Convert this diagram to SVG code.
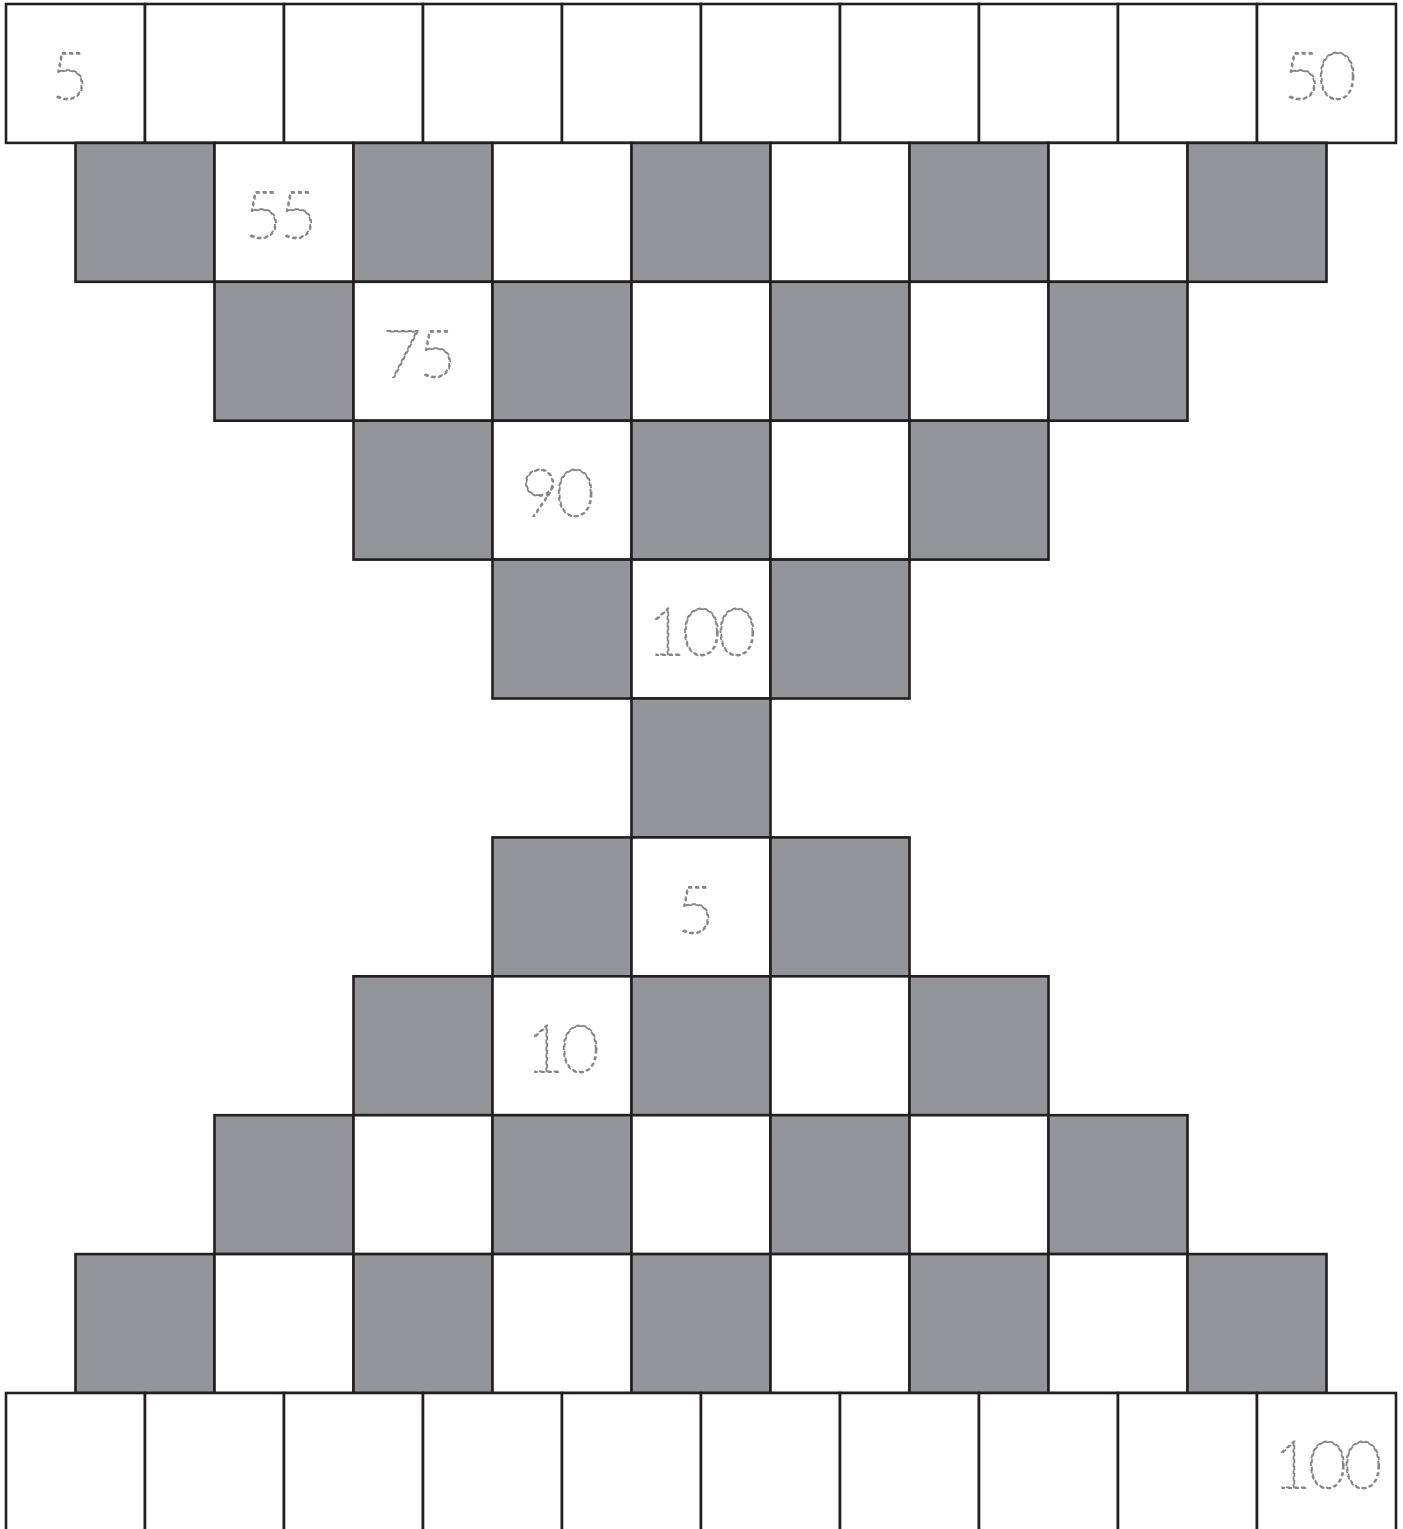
<svg xmlns="http://www.w3.org/2000/svg" width="1403" height="1529" viewBox="0 0 1403 1529">
<style>
.w{fill:#ffffff;stroke:#231f20;stroke-width:2.6}
.g{fill:#939598;stroke:#231f20;stroke-width:2.6}
.n{font-family:"Lato","Liberation Sans",sans-serif;font-weight:100;font-size:66px;letter-spacing:-3px;fill:none;stroke:#858588;stroke-width:1.8;stroke-dasharray:4 3;text-anchor:middle}
</style>
<rect width="1403" height="1529" fill="#ffffff"/>
<g id="row0">
<g id="r0c0"><rect class="w" x="6" y="4" width="139" height="138.9"/><text class="n" x="68" y="99">5</text></g>
<g id="r0c1"><rect class="w" x="145" y="4" width="139" height="138.9"/></g>
<g id="r0c2"><rect class="w" x="284" y="4" width="139" height="138.9"/></g>
<g id="r0c3"><rect class="w" x="423" y="4" width="139" height="138.9"/></g>
<g id="r0c4"><rect class="w" x="562" y="4" width="139" height="138.9"/></g>
<g id="r0c5"><rect class="w" x="701" y="4" width="139" height="138.9"/></g>
<g id="r0c6"><rect class="w" x="840" y="4" width="139" height="138.9"/></g>
<g id="r0c7"><rect class="w" x="979" y="4" width="139" height="138.9"/></g>
<g id="r0c8"><rect class="w" x="1118" y="4" width="139" height="138.9"/></g>
<g id="r0c9"><rect class="w" x="1257" y="4" width="139" height="138.9"/><text class="n" x="1318" y="99">50</text></g>
</g>
<g id="row1">
<g id="r1c0"><rect class="g" x="75.5" y="142.9" width="139" height="138.9"/></g>
<g id="r1c1"><rect class="w" x="214.5" y="142.9" width="139" height="138.9"/><text class="n" x="279" y="238">55</text></g>
<g id="r1c2"><rect class="g" x="353.5" y="142.9" width="139" height="138.9"/></g>
<g id="r1c3"><rect class="w" x="492.5" y="142.9" width="139" height="138.9"/></g>
<g id="r1c4"><rect class="g" x="631.5" y="142.9" width="139" height="138.9"/></g>
<g id="r1c5"><rect class="w" x="770.5" y="142.9" width="139" height="138.9"/></g>
<g id="r1c6"><rect class="g" x="909.5" y="142.9" width="139" height="138.9"/></g>
<g id="r1c7"><rect class="w" x="1048.5" y="142.9" width="139" height="138.9"/></g>
<g id="r1c8"><rect class="g" x="1187.5" y="142.9" width="139" height="138.9"/></g>
</g>
<g id="row2">
<g id="r2c0"><rect class="g" x="214.5" y="281.8" width="139" height="138.9"/></g>
<g id="r2c1"><rect class="w" x="353.5" y="281.8" width="139" height="138.9"/><text class="n" x="418" y="377">75</text></g>
<g id="r2c2"><rect class="g" x="492.5" y="281.8" width="139" height="138.9"/></g>
<g id="r2c3"><rect class="w" x="631.5" y="281.8" width="139" height="138.9"/></g>
<g id="r2c4"><rect class="g" x="770.5" y="281.8" width="139" height="138.9"/></g>
<g id="r2c5"><rect class="w" x="909.5" y="281.8" width="139" height="138.9"/></g>
<g id="r2c6"><rect class="g" x="1048.5" y="281.8" width="139" height="138.9"/></g>
</g>
<g id="row3">
<g id="r3c0"><rect class="g" x="353.5" y="420.7" width="139" height="138.9"/></g>
<g id="r3c1"><rect class="w" x="492.5" y="420.7" width="139" height="138.9"/><text class="n" x="556" y="516">90</text></g>
<g id="r3c2"><rect class="g" x="631.5" y="420.7" width="139" height="138.9"/></g>
<g id="r3c3"><rect class="w" x="770.5" y="420.7" width="139" height="138.9"/></g>
<g id="r3c4"><rect class="g" x="909.5" y="420.7" width="139" height="138.9"/></g>
</g>
<g id="row4">
<g id="r4c0"><rect class="g" x="492.5" y="559.6" width="139" height="138.9"/></g>
<g id="r4c1"><rect class="w" x="631.5" y="559.6" width="139" height="138.9"/><text class="n" x="700" y="655">100</text></g>
<g id="r4c2"><rect class="g" x="770.5" y="559.6" width="139" height="138.9"/></g>
</g>
<g id="row5">
<g id="r5c0"><rect class="g" x="631.5" y="698.5" width="139" height="138.9"/></g>
</g>
<g id="row6">
<g id="r6c0"><rect class="g" x="492.5" y="837.4" width="139" height="138.9"/></g>
<g id="r6c1"><rect class="w" x="631.5" y="837.4" width="139" height="138.9"/><text class="n" x="694" y="933">5</text></g>
<g id="r6c2"><rect class="g" x="770.5" y="837.4" width="139" height="138.9"/></g>
</g>
<g id="row7">
<g id="r7c0"><rect class="g" x="353.5" y="976.3" width="139" height="138.9"/></g>
<g id="r7c1"><rect class="w" x="492.5" y="976.3" width="139" height="138.9"/><text class="n" x="561" y="1072">10</text></g>
<g id="r7c2"><rect class="g" x="631.5" y="976.3" width="139" height="138.9"/></g>
<g id="r7c3"><rect class="w" x="770.5" y="976.3" width="139" height="138.9"/></g>
<g id="r7c4"><rect class="g" x="909.5" y="976.3" width="139" height="138.9"/></g>
</g>
<g id="row8">
<g id="r8c0"><rect class="g" x="214.5" y="1115.2" width="139" height="138.9"/></g>
<g id="r8c1"><rect class="w" x="353.5" y="1115.2" width="139" height="138.9"/></g>
<g id="r8c2"><rect class="g" x="492.5" y="1115.2" width="139" height="138.9"/></g>
<g id="r8c3"><rect class="w" x="631.5" y="1115.2" width="139" height="138.9"/></g>
<g id="r8c4"><rect class="g" x="770.5" y="1115.2" width="139" height="138.9"/></g>
<g id="r8c5"><rect class="w" x="909.5" y="1115.2" width="139" height="138.9"/></g>
<g id="r8c6"><rect class="g" x="1048.5" y="1115.2" width="139" height="138.9"/></g>
</g>
<g id="row9">
<g id="r9c0"><rect class="g" x="75.5" y="1254.1" width="139" height="138.9"/></g>
<g id="r9c1"><rect class="w" x="214.5" y="1254.1" width="139" height="138.9"/></g>
<g id="r9c2"><rect class="g" x="353.5" y="1254.1" width="139" height="138.9"/></g>
<g id="r9c3"><rect class="w" x="492.5" y="1254.1" width="139" height="138.9"/></g>
<g id="r9c4"><rect class="g" x="631.5" y="1254.1" width="139" height="138.9"/></g>
<g id="r9c5"><rect class="w" x="770.5" y="1254.1" width="139" height="138.9"/></g>
<g id="r9c6"><rect class="g" x="909.5" y="1254.1" width="139" height="138.9"/></g>
<g id="r9c7"><rect class="w" x="1048.5" y="1254.1" width="139" height="138.9"/></g>
<g id="r9c8"><rect class="g" x="1187.5" y="1254.1" width="139" height="138.9"/></g>
</g>
<g id="row10">
<g id="r10c0"><rect class="w" x="6" y="1393" width="139" height="138.9"/></g>
<g id="r10c1"><rect class="w" x="145" y="1393" width="139" height="138.9"/></g>
<g id="r10c2"><rect class="w" x="284" y="1393" width="139" height="138.9"/></g>
<g id="r10c3"><rect class="w" x="423" y="1393" width="139" height="138.9"/></g>
<g id="r10c4"><rect class="w" x="562" y="1393" width="139" height="138.9"/></g>
<g id="r10c5"><rect class="w" x="701" y="1393" width="139" height="138.9"/></g>
<g id="r10c6"><rect class="w" x="840" y="1393" width="139" height="138.9"/></g>
<g id="r10c7"><rect class="w" x="979" y="1393" width="139" height="138.9"/></g>
<g id="r10c8"><rect class="w" x="1118" y="1393" width="139" height="138.9"/></g>
<g id="r10c9"><rect class="w" x="1257" y="1393" width="139" height="138.9"/><text class="n" x="1326" y="1488">100</text></g>
</g>
</svg>
